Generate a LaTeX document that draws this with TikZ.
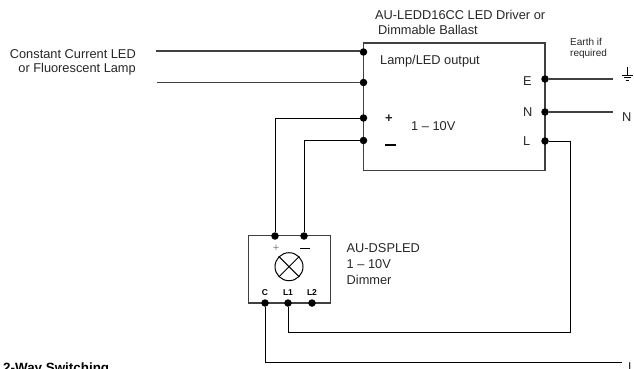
\documentclass[tikz,border=0pt]{standalone}
\usepackage{fontspec}
\setmainfont{Liberation Sans}
\tikzset{
  term/.style={circle,fill=black,inner sep=0pt,minimum size=7.5pt},
  cable/.style={line width=1.1pt,draw=black!75},
  wire/.style={line width=1pt,draw=black},
  lbl/.style={inner sep=0pt,font=\fontsize{12.8}{14}\selectfont,text=black!85},
  lblr/.style={lbl,anchor=east},
  lbll/.style={lbl,anchor=west},
  small/.style={lbll,font=\fontsize{10}{11}\selectfont},
  tiny/.style={inner sep=0pt,font=\fontsize{8.5}{9}\bfseries\selectfont}
}
\begin{document}
\begin{tikzpicture}[x=1pt,y=-1pt]
    \useasboundingbox (0,0) rectangle (634,368);
    \clip (0,0) rectangle (634,368);
    % Driver
    \draw[cable] (363.5,43) rectangle (545,170.5);
    \node[term] (lampa) at (363.5,52) {};
    \node[term] (lampb) at (363.5,82.5) {};
    \node[term] (plus) at (363.5,118) {};
    \node[term] (minus) at (363.5,140.5) {};
    \node[term] (earth) at (545,79) {};
    \node[term] (neutral) at (545,112) {};
    \node[term] (live) at (545,141) {};
    \node[lbll] (drivera) at (375,15) {AU-LEDD16CC LED Driver or};
    \node[lbll] (driverb) at (378,30) {Dimmable Ballast};
    \node[lbll] (output) at (380,61.5) {Lamp/LED output};
    \node[lbll] (volt) at (411,126) {1 -- 10V};
    \node[lbll] (ltre) at (523,81) {E};
    \node[lbll] (ltrn) at (523,112) {N};
    \node[lbll] (ltrl) at (523,141) {L};
    \node[lbl,font=\fontsize{13}{14}\bfseries\selectfont] (drvplus) at (389,119) {+};
    \draw[line width=2pt,black] (385,144.5) -- (396,144.5) coordinate (drvminus);
    % Dimmer
    \draw[cable] (248.7,235.7) rectangle (330.7,303);
    \node[term] (dimplus) at (275,236) {};
    \node[term] (dimminus) at (304,236) {};
    \node[term] (dimc) at (265,303) {};
    \node[term] (diml1) at (288,303) {};
    \node[term] (diml2) at (312,303) {};
    \node[draw=black,line width=1pt,circle,inner sep=0pt,minimum size=28pt] (lamp) at (289,266.7) {};
    \draw[line width=1pt] (lamp.north west) -- (lamp.south east);
    \draw[line width=1pt] (lamp.north east) -- (lamp.south west);
    \node[inner sep=0pt,text=black!50,font=\fontsize{11}{11}\selectfont] (dimp) at (276,248) {+};
    \draw[line width=1pt,black] (300,248.5) -- (310,248.5) coordinate (dimm);
    \node[tiny] (ltrc) at (265,292.5) {C};
    \node[tiny] (ltra) at (288,292.5) {L1};
    \node[tiny] (ltrb) at (312,292.5) {L2};
    \node[lbll] (dima) at (346.5,248.5) {AU-DSPLED};
    \node[lbll] (dimb) at (346.5,264.5) {1 -- 10V};
    \node[lbll] (dimd) at (346.5,280) {Dimmer};
    % Lamp side
    \node[lblr] (consta) at (136,54.5) {Constant Current LED};
    \node[lblr] (constb) at (136,69.5) {or Fluorescent Lamp};
    \coordinate (enda) at (156,51);
    \coordinate (endb) at (157,82.5);
    \draw[cable] (enda) -- (lampa.west |- enda);
    \draw[cable] (endb) -- (lampb);
    % Control wires
    \draw[wire] (dimplus) -- (dimplus |- plus) -- (plus);
    \draw[wire] (dimminus) -- (dimminus |- minus) -- (minus);
    % Mains side
    \coordinate (ende) at (612.5,79);
    \coordinate (endn) at (612.5,112);
    \coordinate (cornerl) at (570,332);
    \coordinate (endc) at (622,362.7);
    \draw[cable] (earth) -- (ende);
    \draw[cable] (neutral) -- (endn);
    \draw[wire] (live) -- (cornerl |- live) -- (cornerl) -- (diml1 |- cornerl) -- (diml1);
    \draw[wire] (dimc) -- (dimc |- endc) -- (endc);
    % Earth symbol
    \draw[line width=0.9pt] (627,67) -- (627,75);
    \draw[line width=0.9pt] (621.5,75) -- (633,75);
    \draw[line width=0.9pt] (623.5,77.5) -- (630.5,77.5);
    \draw[line width=0.9pt] (625.5,80) -- (628.5,80);
    \node[small] (eartha) at (570,42) {Earth if};
    \node[small] (earthb) at (570,53.5) {required};
    \node[lbll] (ltrnr) at (622,117) {N};
    \node[lbll] (ltrlr) at (628,367) {L};
    % Title
    \node[lbll,font=\fontsize{13.4}{14}\bfseries\selectfont,text=black] (title) at (3,369) {2-Way Switching};
\end{tikzpicture}
\end{document}
